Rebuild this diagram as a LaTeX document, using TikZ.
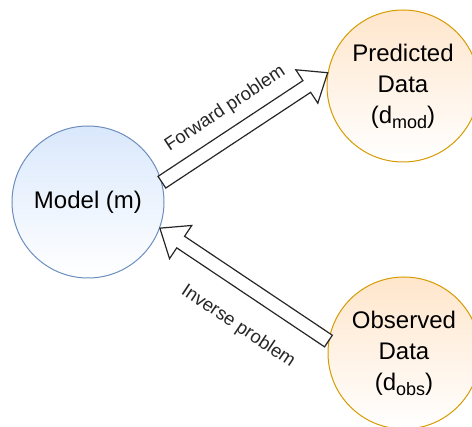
\documentclass[tikz,border=0pt]{standalone}
\usepackage{fontspec}
\setmainfont{Liberation Sans}
\usetikzlibrary{calc}

\definecolor{bluefill}{HTML}{DAE8FC}
\definecolor{blueline}{HTML}{6C8EBF}
\definecolor{orangefill}{HTML}{FFE6CC}
\definecolor{orangeline}{HTML}{D79B00}

% subscript as set in the data circles
\newcommand{\lowsub}[1]{\raisebox{-0.4ex}{\fontsize{18}{18}\selectfont #1}}

\tikzset{
  blob/.style={circle, minimum size=152pt, inner sep=0pt, line width=1pt,
    align=center, font=\fontsize{24}{31}\selectfont},
  modelblob/.style={blob, draw=blueline, top color=bluefill, bottom color=white},
  datablob/.style={blob, draw=orangeline, top color=orangefill, bottom color=white},
  hollow/.style={draw=black!85, line width=1.2pt, fill=white, line join=miter},
  problabel/.style={sloped, font=\fontsize{18.5}{20}\selectfont, text=black!85}
}

% open block arrow, tail at #1, tip at #2
\newcommand{\hollowarrow}[2]{
  \coordinate (hb) at ($(#2)!25pt!(#1)$);
  \draw[hollow] ($(#1)!7pt!90:(#2)$) -- ($(hb)!7pt!-90:(#1)$)
    -- ($(hb)!20pt!-90:(#1)$) -- (#2) -- ($(hb)!20pt!90:(#1)$)
    -- ($(hb)!7pt!90:(#1)$) -- ($(#1)!7pt!-90:(#2)$) -- cycle;
}

\begin{document}
\begin{tikzpicture}[x=1pt,y=-1pt]
  \useasboundingbox (0,0) rectangle (472,427);

  \node[modelblob] (model) at (88,202) {Model (m)};
  \node[datablob] (pred) at (403,86) {Predicted\\Data\\(d\lowsub{mod})};
  \node[datablob] (obs) at (404,353) {Observed\\Data\\(d\lowsub{obs})};

  \coordinate (fwdtail) at (model.15);
  \coordinate (fwdtip) at (pred.170);
  \coordinate (invtail) at (obs.171);
  \coordinate (invtip) at (model.-20);

  \hollowarrow{fwdtail}{fwdtip}
  \hollowarrow{invtail}{invtip}

  \path (fwdtail) -- node[problabel, pos=0.47, above=14pt] {Forward problem} (fwdtip);
  \path (invtip) -- node[problabel, pos=0.59, below=26pt] {Inverse problem} (invtail);
\end{tikzpicture}
\end{document}
